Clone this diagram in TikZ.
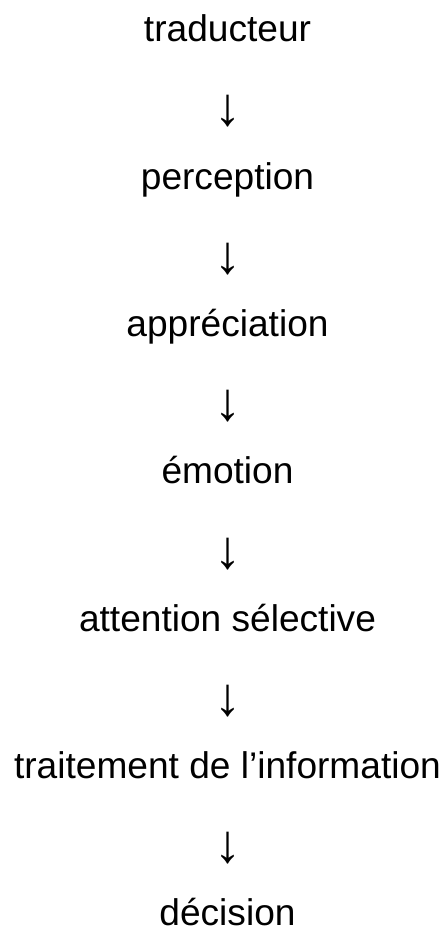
\documentclass[tikz,border=0pt]{standalone}
\usepackage{fontspec}
\setmainfont{Liberation Sans}
\begin{document}
\begin{tikzpicture}[x=1pt,y=1pt,
  lbl/.style={anchor=base,inner sep=0pt,font=\fontsize{37.1}{37.1}\selectfont},
  arr/.style={anchor=center,inner sep=0pt,font=\fontsize{54}{54}\selectfont}]
\useasboundingbox (0,0) rectangle (446,929);
\node[lbl] (t1) at (227.5,{929-41.7}) {traducteur};
\node[arr] (a1) at (228,{929-111.5}) {↓};
\node[lbl] (t2) at (227.5,{929-189.1}) {perception};
\node[arr] (a2) at (228,{929-258.9}) {↓};
\node[lbl] (t3) at (227.5,{929-336.5}) {appréciation};
\node[arr] (a3) at (228,{929-406.3}) {↓};
\node[lbl] (t4) at (227.5,{929-483.9}) {émotion};
\node[arr] (a4) at (228,{929-553.7}) {↓};
\node[lbl] (t5) at (227.5,{929-631.3}) {attention sélective};
\node[arr] (a5) at (228,{929-701.1}) {↓};
\node[lbl] (t6) at (227.5,{929-778.7}) {traitement de l’information};
\node[arr] (a6) at (228,{929-848.5}) {↓};
\node[lbl] (t7) at (227.5,{929-925.5}) {décision};
\end{tikzpicture}
\end{document}
